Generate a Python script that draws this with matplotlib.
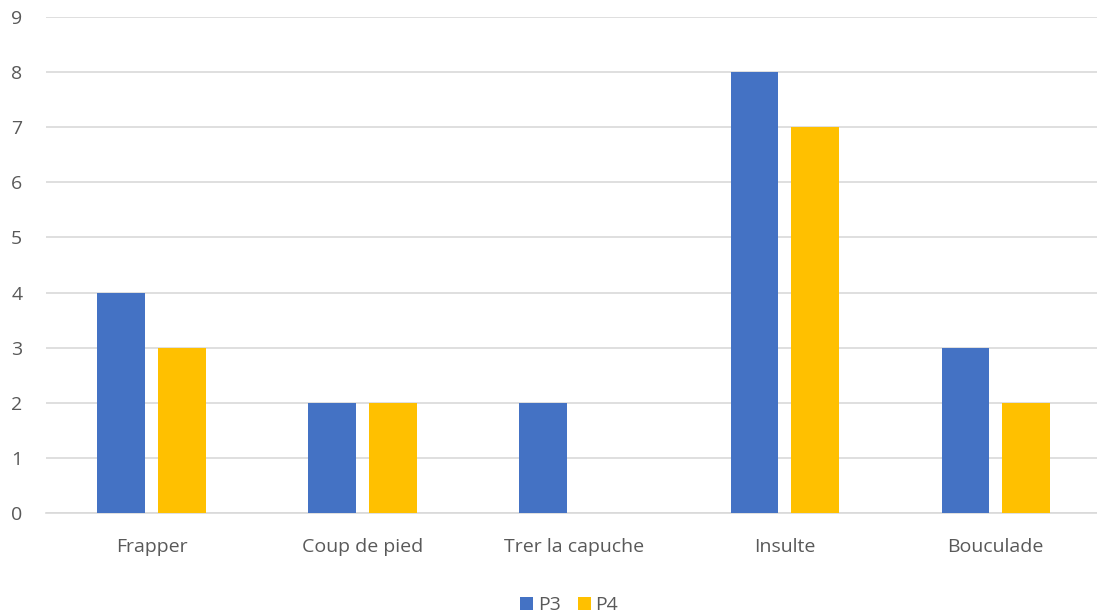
import numpy as np
import matplotlib.pyplot as plt

# data
categories = ['Frapper', 'Coup de pied', 'Trer la capuche', 'Insulte', 'Bouculade']
p3 = [4, 2, 2, 8, 3]
p4 = [3, 2, 0, 7, 2]

plt.rcParams['font.family'] = ['Open Sans', 'DejaVu Sans']

fig = plt.figure(figsize=(10.97, 6.16), dpi=100)
ax = fig.add_axes([0.0419, 0.1672, 0.9581, 0.8052])

x = np.arange(len(categories))
w = 0.227
ax.bar(x - 0.143, p3, w, color='#4472C4', label='P3', zorder=3)
ax.bar(x + 0.143, p4, w, color='#FFC000', label='P4', zorder=3)

ax.set_ylim(0, 9)
ax.set_xlim(-0.5, 4.48)
ax.set_yticks(range(10))
ax.set_xticks(x)
ax.set_xticklabels(categories)
ax.grid(axis='y', color='#d9d9d9', linewidth=1.2, zorder=0)
for s in ['top', 'right', 'left']:
    ax.spines[s].set_visible(False)
ax.spines['bottom'].set_color('#d9d9d9')
ax.spines['bottom'].set_linewidth(1.2)
ax.tick_params(length=0, colors='#595959', labelsize=14)
ax.tick_params(axis='x', pad=18)
ax.tick_params(axis='y', pad=17)

fig.legend(loc='center', bbox_to_anchor=(0.519, 0.018), ncol=2, frameon=False,
           handlelength=0.65, handleheight=0.65, handletextpad=0.25, columnspacing=0.9,
           labelcolor='#595959', fontsize=14)

fig.savefig('out.png', dpi=100)
